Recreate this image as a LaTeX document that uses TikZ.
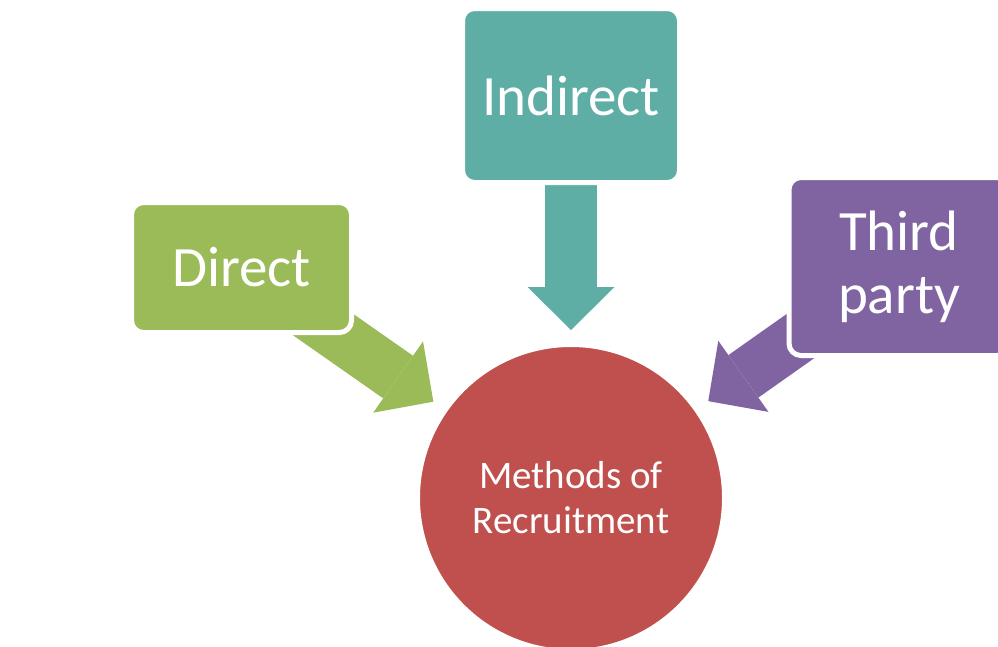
\documentclass[tikz,border=0pt]{standalone}
\usepackage{fontspec}
\setmainfont{Carlito}
\usetikzlibrary{arrows.meta,backgrounds}

\definecolor{indirectteal}{RGB}{95,174,166}
\definecolor{directgreen}{RGB}{155,187,89}
\definecolor{thirdpurple}{RGB}{128,100,162}
\definecolor{methodsred}{RGB}{192,80,77}

\begin{document}
\begin{tikzpicture}[x=1pt,y=-1pt,
    box/.style={rectangle,rounded corners=12pt,draw=white,line width=5pt,text=white,align=center,font=\fontsize{57}{63}\selectfont},
    hub/.style={circle,draw=white,line width=4pt,text=white,align=center,minimum size=306pt,inner sep=0pt,font=\fontsize{39}{45}\selectfont},
    fat/.style={line width=52pt,shorten >=13pt,-{Triangle[length=43pt,width=87pt,line width=0pt]}}]
      \clip (0,0) rectangle (998,646);
      \node[hub,fill=methodsred] (methods) at (571,498) {Methods of\\Recruitment};
      \node[box,fill=indirectteal,minimum width=217pt,minimum height=174pt] (indirect) at (571,95.5) {Indirect};
      \node[box,fill=directgreen,minimum width=220pt,minimum height=130pt] (direct) at (241.5,267.5) {Direct};
      \node[box,fill=thirdpurple,minimum width=220pt,minimum height=178pt] (third) at (899,266.5) {Third\\party};
      
      \begin{scope}[on background layer]
        \draw[fat,indirectteal] (indirect.center) -- (methods);
        \draw[fat,directgreen] (direct.center) -- (methods);
        \draw[fat,thirdpurple] (third.center) -- (methods);
      \end{scope}
\end{tikzpicture}
\end{document}
